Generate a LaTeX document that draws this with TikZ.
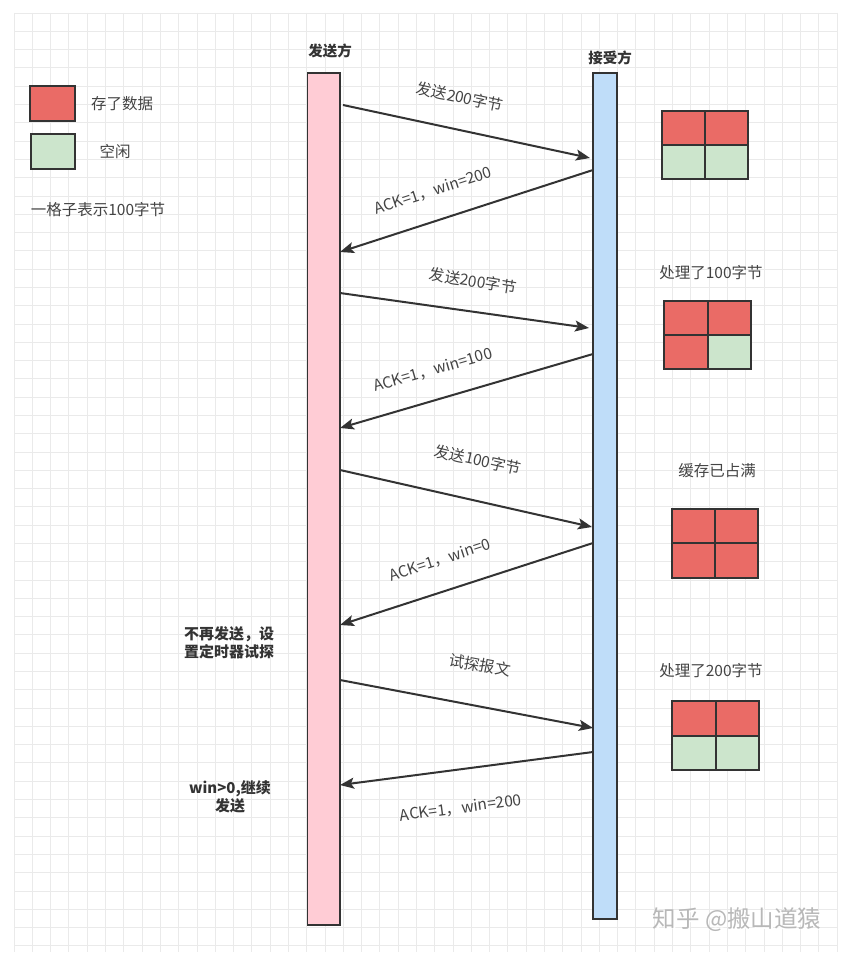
\documentclass[tikz,border=0pt]{standalone}
\usepackage{fontspec}
\setmainfont{Noto Sans CJK SC}
\usetikzlibrary{arrows.meta}
\definecolor{gridc}{HTML}{EAEAEA}
\definecolor{ink}{HTML}{333333}
\definecolor{txt}{HTML}{444444}
\definecolor{fullc}{HTML}{EA6B66}
\definecolor{freec}{HTML}{CCE5CC}
\definecolor{sendc}{HTML}{FFCCD5}
\definecolor{recvc}{HTML}{BFDDF9}
\definecolor{markc}{HTML}{B8B8B8}
\tikzset{
  gridline/.style={draw=gridc, line width=0.8pt},
  lifeline/.style={draw=ink, line width=1.6pt, minimum width=#1, inner sep=0pt},
  msg/.style={draw=ink, line width=2pt, -{Stealth[length=14pt,width=11pt,inset=3pt]}},
  msglabel/.style={text=txt, font=\fontsize{15.5}{17}\selectfont, inner sep=0pt},
  title/.style={text=ink, font=\fontsize{14.5}{16}\selectfont\bfseries, inner sep=0pt},
  note/.style={text=ink, font=\fontsize{15}{18}\selectfont\bfseries, inner sep=0pt, align=center},
  bufnote/.style={text=txt, font=\fontsize{15.5}{17}\selectfont, inner sep=0pt},
  cell/.style={draw=ink, line width=2pt},
  wmtext/.style={font=\fontsize{23.5}{26}\selectfont, inner sep=0pt},
}
\begin{document}
\begin{tikzpicture}[x=1pt,y=-1pt]
\useasboundingbox (0,0) rectangle (843,979);
\fill[white] (0,0) rectangle (843,979);

% background grid
\foreach \i in {0,...,45} \draw[gridline] ({14+18.29*\i},13) -- ({14+18.29*\i},952);
\foreach \j in {0,...,51} \draw[gridline] (14,{13+18.29*\j}) -- (837,{13+18.29*\j});

% legend
\filldraw[cell, fill=fullc] (30,86) rectangle (75,121);
\filldraw[cell, fill=freec] (31,134) rectangle (75,169);
\node[msglabel] (lfull) at (122,104) {存了数据};
\node[msglabel] (lfree) at (115,152) {空闲};
\node[msglabel] (lunit) at (98,210) {一格子表示100字节};

% the two hosts
\node[title] (tsend) at (330,51) {发送方};
\node[title] (trecv) at (610,58) {接受方};
\node[lifeline=32.5pt, minimum height=852pt, fill=sendc] (sender) at (323.75,499) {};
\node[lifeline=24pt, minimum height=846pt, fill=recvc] (receiver) at (605,496) {};

% message end points on the lifelines
\coordinate (s1) at (343,105);  \coordinate (r1) at (590,158);
\coordinate (r2) at (593,170);  \coordinate (s2) at (340,252);
\coordinate (s3) at (340,293);  \coordinate (r3) at (589,328);
\coordinate (r4) at (593,354);  \coordinate (s4) at (340,428);
\coordinate (s5) at (340,470);  \coordinate (r5) at (592,527);
\coordinate (r6) at (593,543);  \coordinate (s6) at (340,625);
\coordinate (s7) at (340,680);  \coordinate (r7) at (593,728);
\coordinate (r8) at (593,752);  \coordinate (s8) at (340,785);

\draw[msg] (s1) -- (r1);
\draw[msg] (r2) -- (s2);
\draw[msg] (s3) -- (r3);
\draw[msg] (r4) -- (s4);
\draw[msg] (s5) -- (r5);
\draw[msg] (r6) -- (s6);
\draw[msg] (s7) -- (r7);
\draw[msg] (r8) -- (s8);

\node[msglabel, rotate=-12] (m1) at (460,97) {发送200字节};
\node[msglabel, rotate=18] (m2) at (433,191) {ACK=1，win=200};
\node[msglabel, rotate=-9] (m3) at (473,281) {发送200字节};
\node[msglabel, rotate=16] (m4) at (433,370) {ACK=1，win=100};
\node[msglabel, rotate=-12.5] (m5) at (478,460) {发送100字节};
\node[msglabel, rotate=18] (m6) at (440,560) {ACK=1，win=0};
\node[msglabel, rotate=-10.5] (m7) at (480,665) {试探报文};
\node[msglabel, rotate=7.5] (m8) at (461,808) {ACK=1，win=200};

% sender side notes
\node[note] (n1) at (229,643) {不再发送，设\\置定时器试探};
\node[note] (n2) at (230,797) {win>0,继续\\发送};

% receive buffer states
\filldraw[cell, fill=fullc] (662,111) rectangle (705,145);
\filldraw[cell, fill=fullc] (705,111) rectangle (748,145);
\filldraw[cell, fill=freec] (662,145) rectangle (705,179);
\filldraw[cell, fill=freec] (705,145) rectangle (748,179);

\node[bufnote] (b2) at (711,273) {处理了100字节};
\filldraw[cell, fill=fullc] (664,301) rectangle (708,335);
\filldraw[cell, fill=fullc] (708,301) rectangle (751,335);
\filldraw[cell, fill=fullc] (664,335) rectangle (708,369);
\filldraw[cell, fill=freec] (708,335) rectangle (751,369);

\node[bufnote] (b3) at (717,471) {缓存已占满};
\filldraw[cell, fill=fullc] (672,509) rectangle (715,543);
\filldraw[cell, fill=fullc] (715,509) rectangle (758,543);
\filldraw[cell, fill=fullc] (672,543) rectangle (715,578);
\filldraw[cell, fill=fullc] (715,543) rectangle (758,578);

\node[bufnote] (b4) at (711,671) {处理了200字节};
\filldraw[cell, fill=fullc] (672,701) rectangle (716,736);
\filldraw[cell, fill=fullc] (716,701) rectangle (759,736);
\filldraw[cell, fill=freec] (672,736) rectangle (716,770);
\filldraw[cell, fill=freec] (716,736) rectangle (759,770);

% watermark
\node[wmtext, text=white] (wm0) at (738.5,921.5) {知乎 @搬山道猿};
\node[wmtext, text=markc] (wm) at (737,920) {知乎 @搬山道猿};
\end{tikzpicture}
\end{document}
